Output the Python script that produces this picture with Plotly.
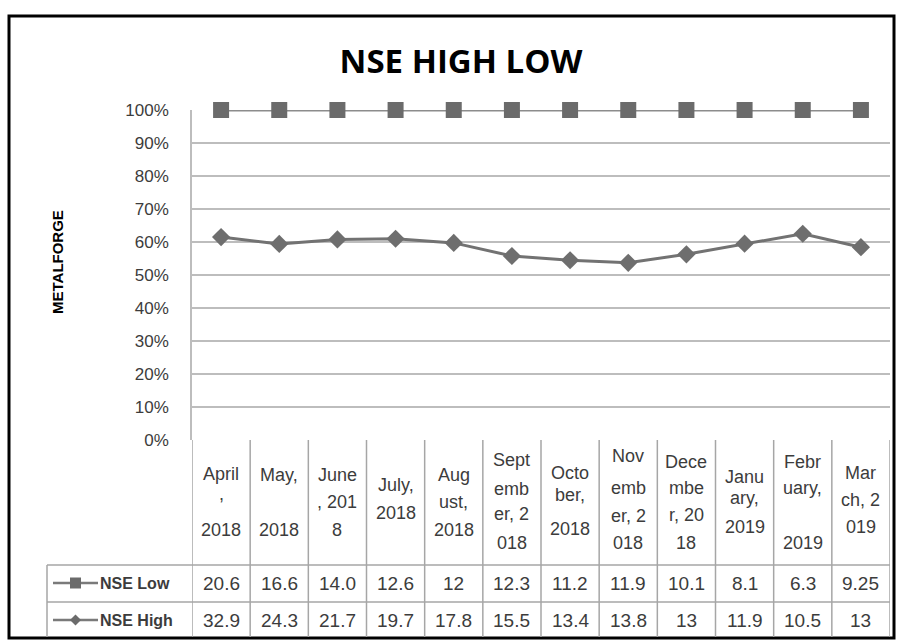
import numpy as np
import plotly.graph_objects as go

# ---- data ----
months = ["April, 2018", "May, 2018", "June, 2018", "July, 2018", "August, 2018",
          "September, 2018", "October, 2018", "November, 2018", "December, 2018",
          "January, 2019", "February, 2019", "March, 2019"]
nse_low = [20.6, 16.6, 14.0, 12.6, 12, 12.3, 11.2, 11.9, 10.1, 8.1, 6.3, 9.25]
nse_high = [32.9, 24.3, 21.7, 19.7, 17.8, 15.5, 13.4, 13.8, 13, 11.9, 10.5, 13]
low_labels = ["20.6", "16.6", "14.0", "12.6", "12", "12.3", "11.2", "11.9", "10.1", "8.1", "6.3", "9.25"]
high_labels = ["32.9", "24.3", "21.7", "19.7", "17.8", "15.5", "13.4", "13.8", "13", "11.9", "10.5", "13"]
y_ticks = [0, 0.1, 0.2, 0.3, 0.4, 0.5, 0.6, 0.7, 0.8, 0.9, 1.0]
y_tick_text = ["0%", "10%", "20%", "30%", "40%", "50%", "60%", "70%", "80%", "90%", "100%"]

# wrapped header lines as rendered in the table (text, pixel y)
header_lines = [
    [("April", 474), (",", 494), ("2018", 530)],
    [("May,", 475), ("2018", 530)],
    [("June", 475), (", 201", 502), ("8", 530)],
    [("July,", 485), ("2018", 513)],
    [("Aug", 475), ("ust,", 502), ("2018", 530)],
    [("Sept", 460), ("emb", 489), ("er, 2", 514), ("018", 543)],
    [("Octo", 473), ("ber,", 495), ("2018", 529)],
    [("Nov", 456), ("emb", 488), ("er, 2", 516), ("018", 543)],
    [("Dece", 462), ("mbe", 488), ("r, 20", 515), ("18", 543)],
    [("Janu", 477), ("ary,", 498), ("2019", 527)],
    [("Febr", 462), ("uary,", 488), ("2019", 543)],
    [("Mar", 473), ("ch, 2", 500), ("019", 527)],
]

low_arr = np.array(nse_low)
high_arr = np.array(nse_high)
total = low_arr + high_arr
high_pct = high_arr / total            # 100% stacked: High first
low_pct = (high_arr + low_arr) / total  # Low stacked on top

x = list(range(len(months)))

# ---- layout geometry ----
W, H = 898, 641
L, R, T, B = 192, 890, 110, 440
PW, PH = R - L, B - T

def px(xp):
    return (xp - L) / PW

def py(yp):
    return (B - yp) / PH

txt_col = "#3c3c3c"
grid_col = "#bdbdbd"
font_fam = "Liberation Sans, Arial, sans-serif"

fig = go.Figure()
fig.add_trace(go.Scatter(x=x, y=high_pct, mode="lines+markers", name="NSE High",
                         line=dict(color="#727272", width=3),
                         marker=dict(symbol="diamond", size=14, color="#6e6e6e"),
                         cliponaxis=False, hoverinfo="skip"))
fig.add_trace(go.Scatter(x=x, y=low_pct, mode="lines+markers", name="NSE Low",
                         line=dict(color="#8c8c8c", width=3),
                         marker=dict(symbol="square", size=16, color="#6b6b6b"),
                         cliponaxis=False, hoverinfo="skip"))

shapes = []
annotations = []

# outer border
shapes.append(dict(type="rect", xref="paper", yref="paper",
                   x0=px(9), x1=px(894), y0=py(16), y1=py(638),
                   line=dict(color="black", width=3), layer="above"))

# table lines
tline = dict(color="#a6a6a6", width=1.5)
for yy in [565, 602]:
    shapes.append(dict(type="line", xref="paper", yref="paper",
                       x0=px(47), x1=px(R), y0=py(yy), y1=py(yy), line=tline))
shapes.append(dict(type="line", xref="paper", yref="paper",
                   x0=px(47), x1=px(47), y0=py(565), y1=py(637), line=tline))
for i in range(len(months) + 1):
    shapes.append(dict(type="line", xref="x", yref="paper",
                       x0=i - 0.5, x1=i - 0.5, y0=py(440), y1=py(637), line=tline))

# header labels
for i, lines in enumerate(header_lines):
    for t, yy in lines:
        annotations.append(dict(x=i, xref="x", y=py(yy), yref="paper", text=t,
                                showarrow=False, xanchor="center", yanchor="middle",
                                font=dict(size=18, color=txt_col, family=font_fam)))

# value rows
for i in range(len(months)):
    annotations.append(dict(x=i, xref="x", y=py(583), yref="paper", text=low_labels[i],
                            showarrow=False, xanchor="center", yanchor="middle",
                            font=dict(size=19, color=txt_col, family=font_fam)))
    annotations.append(dict(x=i, xref="x", y=py(620), yref="paper", text=high_labels[i],
                            showarrow=False, xanchor="center", yanchor="middle",
                            font=dict(size=19, color=txt_col, family=font_fam)))

# legend keys in table
key_fill = "#6b6b6b"
for yy, name in [(583, "NSE Low"), (620, "NSE High")]:
    shapes.append(dict(type="line", xref="paper", yref="paper",
                       x0=px(53), x1=px(98), y0=py(yy), y1=py(yy),
                       line=dict(color="#7a7a7a", width=2.5)))
    annotations.append(dict(x=px(98), xref="paper", y=py(yy), yref="paper", text="<b>" + name + "</b>",
                            showarrow=False, xanchor="left", yanchor="middle",
                            font=dict(size=16, color=txt_col, family=font_fam)))
# square key
shapes.append(dict(type="rect", xref="paper", yref="paper",
                   x0=px(70), x1=px(81), y0=py(577.5), y1=py(588.5),
                   fillcolor=key_fill, line=dict(width=0)))
# diamond key
cx, cy, r = 75.5, 620, 5.5
shapes.append(dict(type="path", xref="paper", yref="paper",
                   path=f"M {px(cx)} {py(cy - r)} L {px(cx + r)} {py(cy)} L {px(cx)} {py(cy + r)} L {px(cx - r)} {py(cy)} Z",
                   fillcolor=key_fill, line=dict(width=0)))

# y-axis title
annotations.append(dict(x=px(57), xref="paper", y=py(262), yref="paper", text="<b>METALFORGE</b>",
                        textangle=-90, showarrow=False, xanchor="center", yanchor="middle",
                        font=dict(size=15, color="black", family=font_fam)))

fig.update_layout(
    width=W, height=H,
    margin=dict(l=L, r=W - R, t=T, b=H - B),
    paper_bgcolor="white", plot_bgcolor="white",
    showlegend=False,
    title=dict(text="<b>NSE HIGH LOW</b>", x=461 / W, xanchor="center", xref="container",
               y=1 - 61 / H, yanchor="middle",
               font=dict(size=33, color="black", family="Open Sans, sans-serif")),
    xaxis=dict(range=[-0.5, len(months) - 0.5], showticklabels=False, showgrid=False,
               zeroline=False, showline=False, fixedrange=True),
    yaxis=dict(range=[0, 1], tickvals=y_ticks, ticktext=y_tick_text,
               showgrid=True, gridcolor=grid_col, gridwidth=1.5,
               zeroline=False, showline=True, linecolor=grid_col, linewidth=1.5,
               ticks="", ticklabelstandoff=18,
               tickfont=dict(size=17, color=txt_col, family=font_fam), fixedrange=True),
    shapes=shapes,
    annotations=annotations,
)

fig.write_html("out.html", config={"displayModeBar": False},
               post_script="document.body.style.margin='0';document.body.style.overflow='hidden';")
